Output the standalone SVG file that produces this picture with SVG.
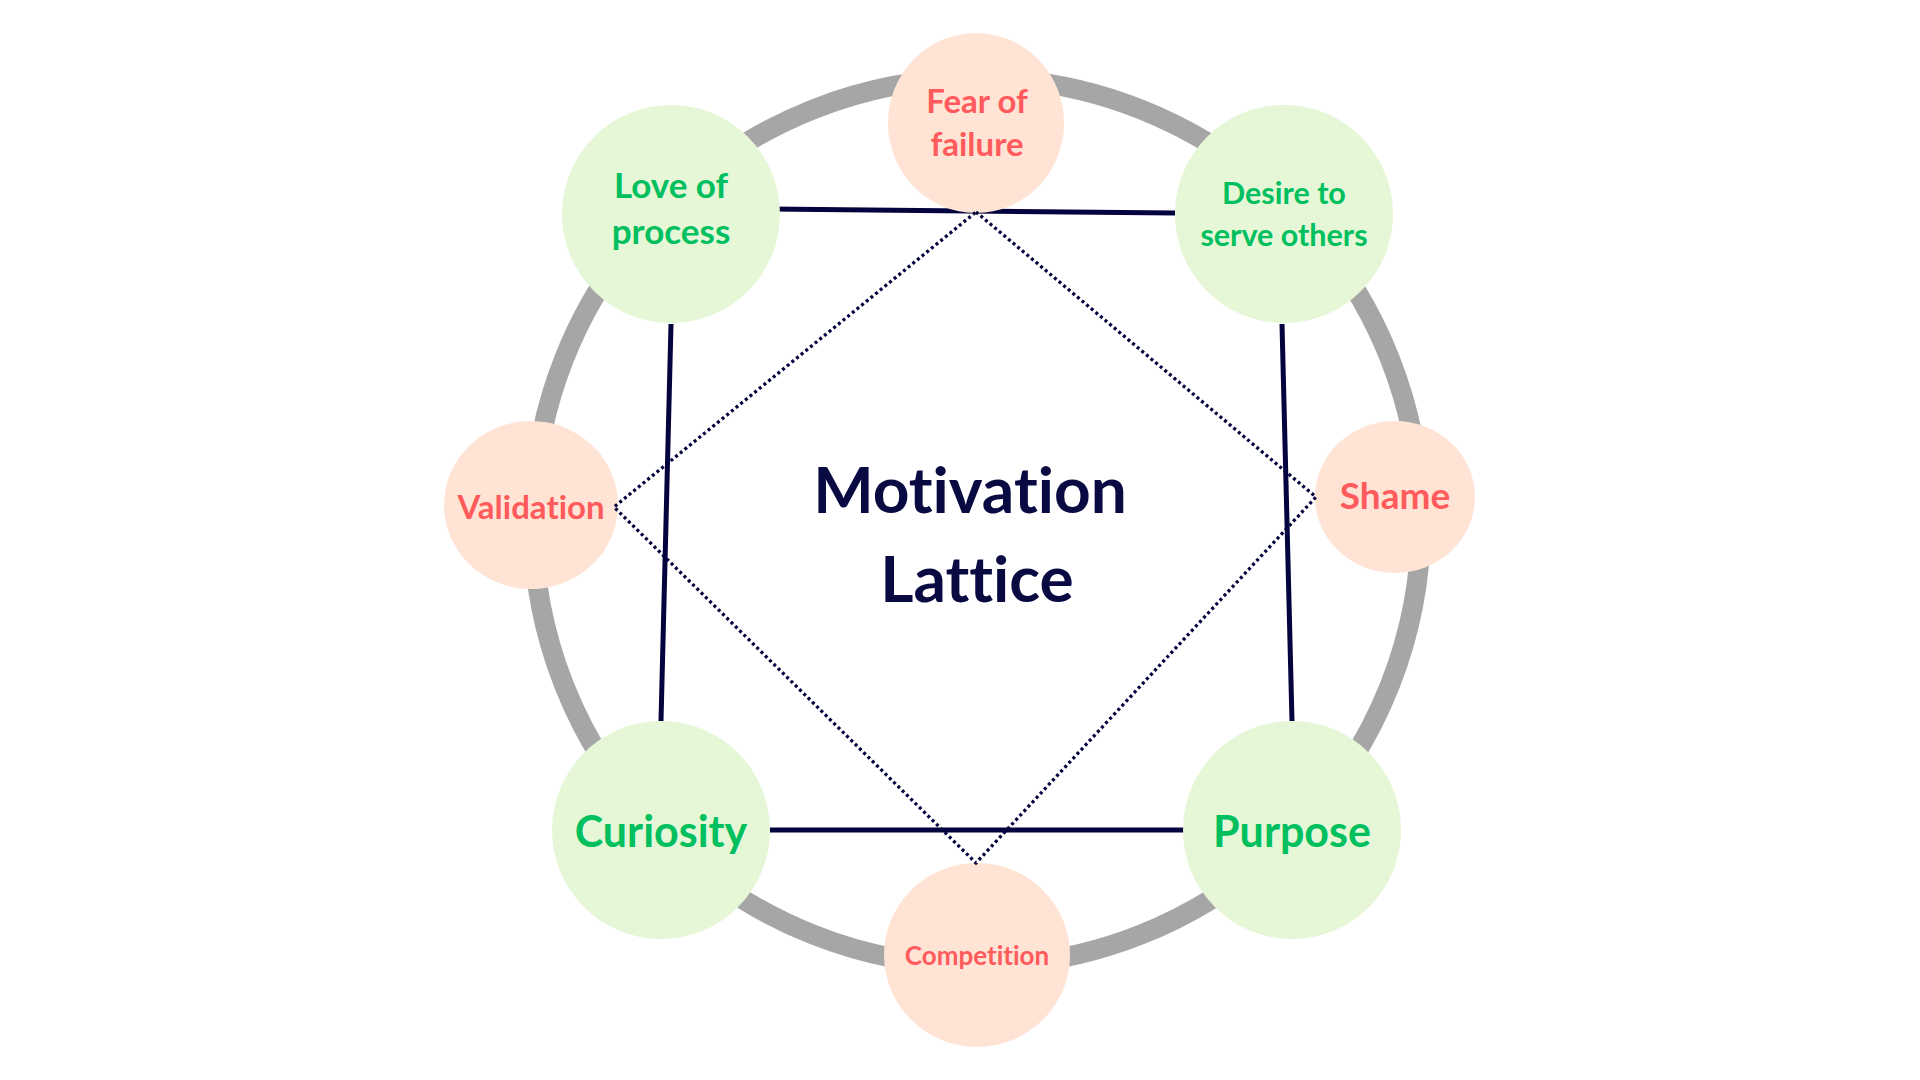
<svg xmlns="http://www.w3.org/2000/svg" width="1920" height="1080" viewBox="0 0 1920 1080">
  <style>
    text { font-family: Lato, "Liberation Sans", sans-serif; font-weight: bold; text-anchor: middle; font-variant-ligatures: none; font-feature-settings: "liga" 0; }
    .green { fill: #E5F7D6; }
    .peach { fill: #FFE4D5; }
    .gt { fill: #00BF5F; }
    .rt { fill: #FF5A5C; }
    .title { fill: #0A0A42; font-size: 64px; }
    .solid { stroke: #03033D; stroke-width: 5; fill: none; }
    .dotted { stroke: #03033D; stroke-width: 3.3; fill: none; stroke-dasharray: 3 3; }
  </style>
  <rect width="1920" height="1080" fill="#FFFFFF"/>
  <g id="ring">
    <circle cx="977" cy="522" r="444" fill="none" stroke="#A6A6A6" stroke-width="20"/>
  </g>
  <g id="connectors">
    <line class="solid" x1="770" y1="209" x2="1175" y2="213"/>
    <line class="solid" x1="671" y1="324" x2="661" y2="721"/>
    <line class="solid" x1="1282" y1="324" x2="1292" y2="721"/>
    <line class="solid" x1="770" y1="830" x2="1184" y2="830"/>
  </g>
  <g id="node-fear">
    <ellipse class="peach" cx="976" cy="123" rx="88" ry="90"/>
    <text class="rt" font-size="33" x="977" y="113">Fear of</text>
    <text class="rt" font-size="33" x="977" y="156">failure</text>
  </g>
  <g id="node-love">
    <circle class="green" cx="671" cy="214" r="109"/>
    <text class="gt" font-size="35" x="671" y="198">Love of</text>
    <text class="gt" font-size="35" x="671" y="244">process</text>
  </g>
  <g id="node-desire">
    <circle class="green" cx="1284" cy="214" r="109"/>
    <text class="gt" font-size="30.5" x="1284" y="204">Desire to</text>
    <text class="gt" font-size="30.5" x="1284" y="246">serve others</text>
  </g>
  <g id="node-validation">
    <ellipse class="peach" cx="531" cy="505" rx="87" ry="84"/>
    <text class="rt" font-size="33" x="531" y="519">Validation</text>
  </g>
  <g id="node-shame">
    <ellipse class="peach" cx="1395" cy="497" rx="80" ry="76"/>
    <text class="rt" font-size="37" x="1395" y="509">Shame</text>
  </g>
  <g id="node-curiosity">
    <circle class="green" cx="661" cy="830" r="109"/>
    <text class="gt" font-size="43" x="661" y="847">Curiosity</text>
  </g>
  <g id="node-purpose">
    <circle class="green" cx="1292" cy="830" r="109"/>
    <text class="gt" font-size="43" x="1292" y="847">Purpose</text>
  </g>
  <g id="node-competition">
    <ellipse class="peach" cx="977" cy="955" rx="93" ry="92"/>
    <text class="rt" font-size="26" x="977" y="965">Competition</text>
  </g>
  <g id="diamond">
    <polygon class="dotted" points="976,212 1316,497 976,863 614,507"/>
  </g>
  <g id="title">
    <text class="title" x="970" y="513">Motivation</text>
    <text class="title" x="977" y="602">Lattice</text>
  </g>
</svg>
